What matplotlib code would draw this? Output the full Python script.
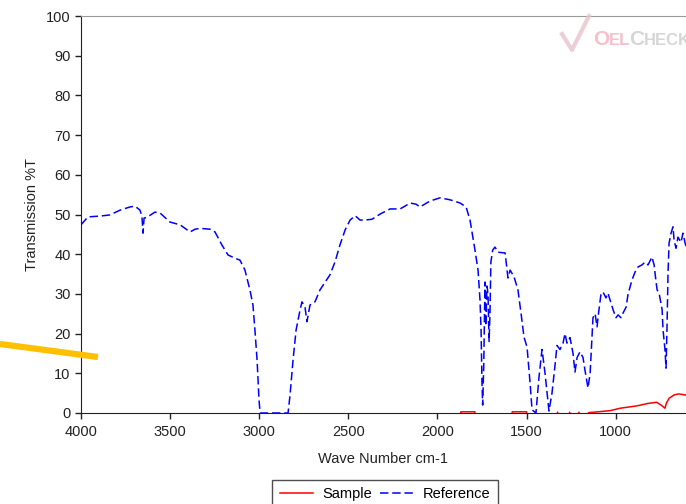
import matplotlib
matplotlib.use("Agg")
import matplotlib.pyplot as plt
from matplotlib.lines import Line2D

plt.rcParams['font.family'] = ['Liberation Sans', 'DejaVu Sans']

# Reference spectrum (wave number, %T)
ref_wn = [4000, 3961, 3893, 3837, 3781, 3725, 3697, 3669, 3658, 3652, 3646, 3630, 3585, 3557,
          3501, 3444, 3388, 3360, 3332, 3276, 3248, 3209, 3175, 3136, 3108, 3080, 3052, 3035,
          3024, 3012, 3001, 2995, 2838, 2827, 2810, 2793, 2771, 2760, 2743, 2732, 2715, 2687,
          2659, 2603, 2575, 2547, 2518, 2490, 2462, 2434, 2406, 2367, 2322, 2266, 2210, 2182,
          2154, 2120, 2098, 2041, 1985, 1929, 1873, 1839, 1817, 1789, 1772, 1761, 1755, 1750,
          1746, 1740, 1733, 1728, 1722, 1716, 1710, 1705, 1700, 1690, 1677, 1660, 1620, 1604,
          1592, 1570, 1548, 1531, 1514, 1497, 1480, 1469, 1447, 1430, 1413, 1396, 1374, 1357,
          1340, 1329, 1312, 1295, 1284, 1273, 1256, 1239, 1228, 1216, 1200, 1183, 1172, 1155,
          1143, 1132, 1127, 1115, 1104, 1099, 1082, 1071, 1054, 1043, 1026, 1014, 998, 986,
          970, 958, 941, 930, 908, 891, 874, 852, 835, 818, 796, 784, 773, 767, 756, 739, 734,
          723, 717, 711, 706, 700, 689, 678, 672, 661, 650, 633, 622, 610, 605]
ref_T = [47.4, 49.4, 49.6, 49.9, 51.1, 51.9, 52.1, 51.1, 49.5, 45.3, 49.1, 49.3, 50.6, 50.4,
         48.1, 47.4, 45.6, 46.3, 46.5, 46.3, 45.6, 42.3, 39.8, 39.0, 38.5, 36.0, 31.0, 27.2,
         20.9, 13.4, 3.3, 0.0, 0.0, 4.5, 13.4, 20.9, 25.9, 28.0, 26.7, 23.0, 27.2, 28.0,
         31.0, 34.8, 38.0, 42.3, 46.1, 48.6, 49.7, 48.6, 48.6, 48.8, 50.1, 51.4, 51.4, 52.1,
         52.9, 52.6, 51.9, 53.4, 54.2, 53.7, 52.9, 51.9, 48.6, 41.0, 36.0, 28.5, 21.0, 8.0,
         2.0, 12.0, 33.0, 22.0, 32.0, 30.0, 18.0, 25.0, 38.0, 41.0, 41.8, 40.5, 40.3, 34.0,
         36.0, 34.3, 31.0, 25.2, 19.1, 16.6, 7.6, 0.8, 0.0, 9.0, 16.0, 10.0, 0.5, 5.0,
         12.0, 17.0, 16.0, 17.6, 20.0, 17.6, 19.0, 15.0, 10.3, 14.0, 15.4, 14.0, 10.8, 6.3,
         10.0, 20.0, 24.0, 25.0, 21.7, 24.0, 30.0, 30.5, 29.0, 30.2, 27.7, 26.0, 24.0, 24.7,
         24.0, 25.2, 26.7, 30.0, 33.5, 35.5, 36.8, 37.3, 38.0, 37.3, 39.3, 37.3, 33.0, 31.0, 30.2, 26.0, 21.0,
         16.0, 11.3, 22.7, 35.0, 42.8, 45.3, 46.9, 43.6, 41.5, 44.3, 43.0, 45.3, 42.8, 42.0]

# Sample spectrum (mostly at/below zero)
sample_wn = [4000, 1872, 1868, 1790, 1786, 1585, 1580, 1500, 1496, 1330, 1326, 1318, 1262, 1258,
             1252, 1210, 1206, 1198, 1160, 1150, 1100, 1030, 975, 880, 820, 770, 745, 723, 715,
             700, 670, 645, 605]
sample_T = [-3, -1, 0.3, 0.3, -1, -1, 0.3, 0.3, -1, -1, 0.2, -1, -1, 0.2,
            -1, -1, 0.2, -1, -0.3, 0.1, 0.3, 0.6, 1.2, 1.8, 2.4, 2.7, 2.0, 1.2, 2.5,
            3.7, 4.6, 4.8, 4.5]

x_ticks = [4000, 3500, 3000, 2500, 2000, 1500, 1000]
y_ticks = [0, 10, 20, 30, 40, 50, 60, 70, 80, 90, 100]

W, H = 686, 504
fig = plt.figure(figsize=(W / 100, H / 100), dpi=100)
ax = fig.add_axes([81 / W, 1 - 413 / H, 1 - 81 / W, (413 - 16) / H])

ax.plot(sample_wn, sample_T, color='#FF0000', lw=1.1, label='Sample', zorder=3)
ax.plot(ref_wn, ref_T, color='#0000FF', lw=1.1, dashes=(5.5, 2.5), label='Reference', zorder=3)

ax.set_xlim(4000, 605)
ax.set_ylim(0, 100)
ax.set_xticks(x_ticks)
ax.set_yticks(y_ticks)
ax.tick_params(axis='both', direction='out', length=4, width=1, colors='#222222',
               labelsize=10.5, labelcolor='#222222')
ax.tick_params(axis='x', pad=5)
ax.spines['right'].set_visible(False)
ax.spines['top'].set_color('#9a9a9a')
ax.spines['left'].set_color('#222222')
ax.spines['bottom'].set_color('#222222')

ax.set_xlabel('Wave Number cm-1', fontsize=10.5, color='#222222', labelpad=9)
ax.set_ylabel('Transmission %T', fontsize=10.5, color='#222222', labelpad=5)

leg = fig.legend(loc='upper center', bbox_to_anchor=(385 / W, 1 - 480 / H), ncol=2,
                 fontsize=10.5, frameon=True, fancybox=False, edgecolor='#222222',
                 handlelength=2.3, columnspacing=0.6, handletextpad=0.6, borderpad=0.5,
                 borderaxespad=0)
leg.get_frame().set_linewidth(1.0)

# orange stroke on the left
fig.add_artist(Line2D([0 / W, 98 / W], [1 - 344 / H, 1 - 357 / H], color='#FFC000', lw=4.5,
                      solid_capstyle='butt', transform=fig.transFigure))

# watermark logo
fig.add_artist(Line2D([562 / W, 572 / W, 589 / W], [1 - 34 / H, 1 - 50 / H, 1 - 16 / H],
                      color='#E8C4CC', lw=3, alpha=0.8, transform=fig.transFigure))
base = 1 - 45 / H
fig.text(593 / W, base, 'O', fontsize=15, fontweight='bold', color='#F5C0CA', va='baseline')
fig.text(609 / W, base, 'EL', fontsize=12, fontweight='bold', color='#F5C0CA', va='baseline')
fig.text(629 / W, base, 'C', fontsize=15, fontweight='bold', color='#D6D6D6', va='baseline')
fig.text(644 / W, base, 'HECK', fontsize=12, fontweight='bold', color='#D6D6D6', va='baseline')

fig.savefig('out.png', dpi=100)
